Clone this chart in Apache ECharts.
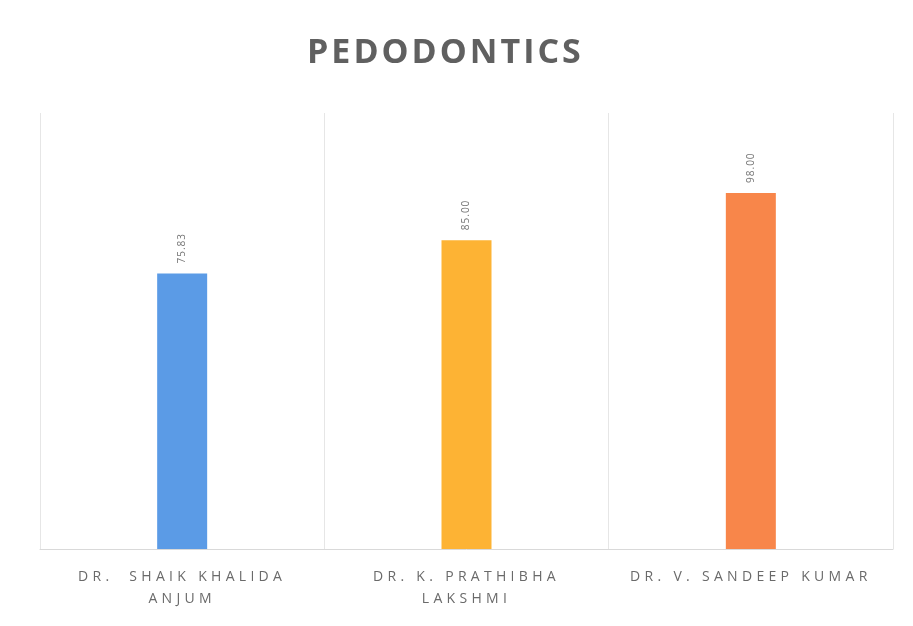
<!DOCTYPE html>
<html><head><meta charset="utf-8">
<script src="https://cdn.jsdelivr.net/npm/echarts@6/dist/echarts.min.js"></script>
<style>html,body{margin:0;padding:0;background:#fff}#c{width:913px;height:626px}</style>
</head><body><div id="c"></div>
<script>
const titleText = "PEDODONTICS";
const categories = ["DR.  SHAIK KHALIDA\nANJUM", "DR. K. PRATHIBHA\nLAKSHMI", "DR. V. SANDEEP KUMAR"];
const values = [75.83, 85.00, 98.00];
const valueLabels = ["75.83", "85.00", "98.00"];
const colors = ["#5B9BE6", "#FDB334", "#F8864A"];

// letter spacing by font size (the reference uses widely tracked text)
const spacingBySize = { 34: '3px', 14: '4.3px', 10: '1px' };
(function () {
  const P = CanvasRenderingContext2D.prototype;
  function apply(ctx) {
    if (!('letterSpacing' in ctx)) return;
    const m = /(\d+(?:\.\d+)?)px/.exec(ctx.font || '');
    const sz = m ? Math.round(parseFloat(m[1])) : 0;
    ctx.letterSpacing = spacingBySize[sz] || '0px';
  }
  ['fillText', 'strokeText', 'measureText'].forEach(function (fn) {
    const orig = P[fn];
    P[fn] = function () { apply(this); return orig.apply(this, arguments); };
  });
})();

const chart = echarts.init(document.getElementById('c'));
chart.setOption({
  backgroundColor: '#fff',
  title: { text: titleText, left: 302, top: 30,
    textStyle: { fontFamily: 'Open Sans', fontWeight: 'bold', fontSize: 34, color: '#606060' } },
  grid: { left: 40, right: 20, top: 113, bottom: 77 },
  xAxis: { type: 'category', data: categories,
    axisLine: { lineStyle: { color: '#d9d9d9' } }, axisTick: { show: false },
    splitLine: { show: true, interval: 0, lineStyle: { color: '#e6e6e6' } },
    axisLabel: { interval: 0, color: '#6a6a6a', fontFamily: 'Open Sans', fontSize: 14, lineHeight: 22, margin: 17 } },
  yAxis: { type: 'value', min: 0, max: 120, show: false, splitLine: { show: false } },
  series: [{ type: 'bar', barWidth: 50,
    data: values.map((v, i) => ({ value: v, itemStyle: { color: colors[i] },
      label: { formatter: valueLabels[i] } })),
    label: { show: true, position: 'top', rotate: 90, align: 'left', verticalAlign: 'middle', distance: 10,
      color: '#777', fontSize: 10, fontFamily: 'Open Sans' } }]
});
</script></body></html>
